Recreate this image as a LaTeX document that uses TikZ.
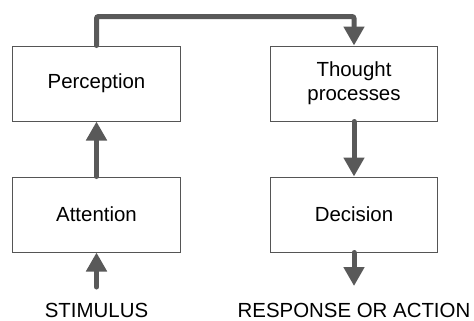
\documentclass[tikz,border=0pt]{standalone}
\usepackage{fontspec}
\setmainfont{Liberation Sans}
\usetikzlibrary{arrows.meta}
\definecolor{linegray}{HTML}{595959}
\definecolor{boxgray}{HTML}{555555}
\begin{document}
\begin{tikzpicture}[x=1bp,y=-1bp,
  stagebox/.style={draw=boxgray, line width=1bp, fill=white,
    minimum width=167bp, minimum height=75bp, inner sep=0pt,
    align=center, font=\fontsize{20.5}{24.5}\selectfont},
  flow/.style={draw=linegray, line width=5bp, line cap=round,
    -{Triangle[width=20bp,length=19bp]}},
  endlabel/.style={font=\fontsize{20.5}{24.5}\selectfont, inner sep=0pt,
    anchor=base, text depth=0pt}]
  \path[use as bounding box] (0,0) rectangle (474,320);

  % the four stages
  \node[stagebox] (per) at (96.5,83.5) {Perception};
  \node[stagebox] (tho) at (354,83.5) {Thought\\processes};
  \node[stagebox] (att) at (96.5,214.5) {Attention};
  \node[stagebox] (dec) at (354,214.5) {Decision};

  % input and output labels
  \node[endlabel] (stim) at (96.5,317) {STIMULUS};
  \node[endlabel] (resp) at (354,317) {RESPONSE OR ACTION};
  \coordinate (stimtail) at (96.5,287);
  \coordinate (resptip) at (354,286);

  % connectors
  \draw[flow] (stimtail) -- (att.south);
  \draw[flow] (att.north) -- (per.south);
  \draw[flow, rounded corners=2bp] (per.north) -- ++(0,-29) -| (tho.north);
  \draw[flow] (tho.south) -- (dec.north);
  \draw[flow] (dec.south) -- (resptip);
\end{tikzpicture}
\end{document}
